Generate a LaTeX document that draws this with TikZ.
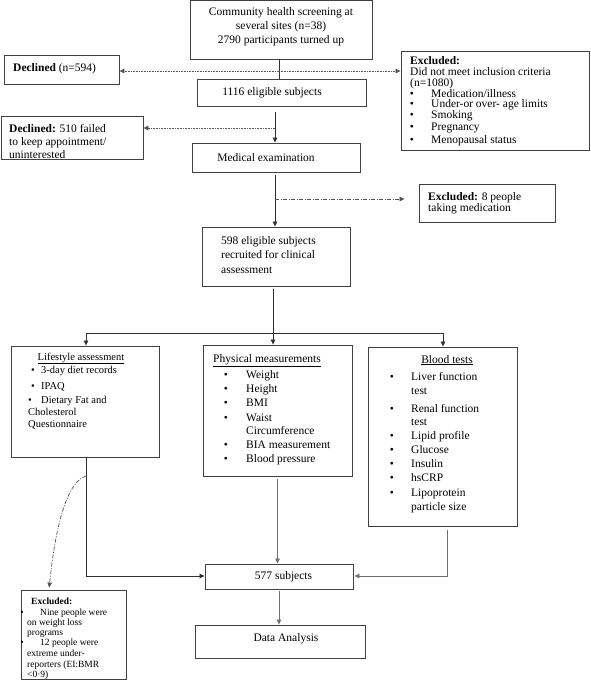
\documentclass[tikz,border=0pt]{standalone}
\usepackage{fontspec}
\setmainfont{Liberation Serif}
\usetikzlibrary{arrows.meta}
\definecolor{boxc}{HTML}{404040}
\definecolor{linec}{HTML}{303030}
\definecolor{glinec}{HTML}{707070}
\definecolor{dotc}{HTML}{555555}
\begin{document}
\begin{tikzpicture}[x=1pt,y=-1pt,
  box/.style={draw=boxc, line width=0.9pt, inner sep=0pt, rectangle},
  t/.style={anchor=base west, inner sep=0pt, font=\fontsize{11.5}{13}\selectfont},
  ts/.style={anchor=base west, inner sep=0pt, font=\fontsize{10.5}{12}\selectfont},
  tx/.style={anchor=base west, inner sep=0pt, font=\fontsize{9.5}{10.5}\selectfont},
  ct/.style={anchor=center, inner sep=0pt, align=center, font=\fontsize{11.5}{14}\selectfont},
  bl/.style={anchor=base, inner sep=0pt, font=\fontsize{11.5}{13}\selectfont},
  bls/.style={anchor=base, inner sep=0pt, font=\fontsize{10.5}{12}\selectfont},
  blx/.style={anchor=base, inner sep=0pt, font=\fontsize{9.5}{10.5}\selectfont},
  plain/.style={draw=linec, line width=0.8pt},
  arr/.style={draw=linec, line width=0.8pt, -{Triangle[length=5pt,width=4.5pt]}},
  garr/.style={draw=glinec, line width=0.8pt, -{Triangle[length=5pt,width=4.5pt]}},
  dotarr/.style={draw=dotc, line width=0.7pt, dash pattern=on 0.8pt off 0.8pt, -{Triangle[length=5pt,width=4.5pt]}},
  ddarr/.style={draw=dotc, line width=0.7pt, dash pattern=on 4pt off 1.5pt on 1pt off 1.5pt, -{Triangle[length=5pt,width=4.5pt]}}
]
\useasboundingbox (0,0) rectangle (591,685);
\fill[white] (0,0) rectangle (591,685);

% boxes
\node[box, minimum width=182pt, minimum height=58.5pt] (top) at (281,29.75) {};
\node[box, minimum width=115pt, minimum height=29pt] (dec1) at (61.5,69.5) {};
\node[box, minimum width=188pt, minimum height=99pt] (excl1) at (495,100.5) {};
\node[box, minimum width=169pt, minimum height=27pt] (e1116) at (281.5,92.5) {};
\node[box, minimum width=142pt, minimum height=43pt] (dec2) at (72,137.5) {};
\node[box, minimum width=168pt, minimum height=29pt] (med) at (276,157.5) {};
\node[box, minimum width=136pt, minimum height=38pt] (excl8) at (487,203) {};
\node[box, minimum width=148pt, minimum height=59pt] (r598) at (276,256.5) {};
\node[box, minimum width=148pt, minimum height=111pt] (life) at (85,401.5) {};
\node[box, minimum width=149pt, minimum height=131pt] (phys) at (277.5,410.5) {};
\node[box, minimum width=149pt, minimum height=179pt] (blood) at (442.5,436.5) {};
\node[box, minimum width=148pt, minimum height=25pt] (s577) at (279,576.5) {};
\node[box, minimum width=170pt, minimum height=33pt] (data) at (280,641.5) {};
\node[box, minimum width=105pt, minimum height=89pt] (excl9) at (73.5,634.5) {};

% texts
\node[ct] (toptx) at (281,27) {Community health screening at\\several sites (n=38)\\2790 participants turned up};
\node[t] (dec1tx) at (13,71.5) {\textbf{Declined} (n=594)};
\node[ct] (e1116tx) at (272,92.5) {1116 eligible subjects};
\node[t] (dec2a) at (9,132) {\textbf{Declined:} 510 failed};
\node[t] (dec2b) at (9,145) {to keep appointment/};
\node[t] (dec2c) at (9,158.5) {uninterested};
\node[ct] (medtx) at (266,157.5) {Medical examination};

\node[t] (ex1a) at (410,64) {\textbf{Excluded:}};
\node[t] (ex1b) at (410,75) {Did not meet inclusion criteria};
\node[t] (ex1c) at (410,86) {(n=1080)};
\foreach \yy/\tt [count=\i] in {97/Medication\slash illness, 107.5/Under-or over- age limits, 118.5/Smoking, 130/Pregnancy, 143/Menopausal status}{
  \node[bl] (ex1bul\i) at (412,\yy) {\textbullet};
  \node[t] (ex1it\i) at (431,\yy) {\tt};
}

\node[t] (ex8a) at (428,200) {\textbf{Excluded:} 8 people};
\node[t] (ex8b) at (428,211.5) {taking medication};

\node[t] (r598a) at (221,244) {598 eligible subjects};
\node[t] (r598b) at (221,258.5) {recruited for clinical};
\node[t] (r598c) at (221,273.5) {assessment};

% lifestyle
\node[bls] (lifeti) at (81,360) {\underline{Lifestyle assessment}};
\node[bls] (lifeb1) at (33,373) {\textbullet};
\node[ts] (lifet1) at (41,373) {3-day diet records};
\node[bls] (lifeb2) at (33,389) {\textbullet};
\node[ts] (lifet2) at (41,389) {IPAQ};
\node[bls] (lifeb3) at (30,403) {\textbullet};
\node[ts] (lifet3) at (41,403) {Dietary Fat and};
\node[ts] (lifet4) at (28,415) {Cholesterol};
\node[ts] (lifet5) at (28,427) {Questionnaire};

% physical
\node[t] (physti) at (213,362) {\underline{Physical measurements}};
\foreach \yy/\tt [count=\i] in {378/Weight, 392/Height, 406/BMI, 421/Waist, 448/BIA measurement, 462/Blood pressure}{
  \node[bl] (phb\i) at (226,\yy) {\textbullet};
  \node[t] (pht\i) at (246,\yy) {\tt};
}
\node[t] (phcirc) at (246,434.5) {Circumference};

% blood
\node[bl] (bloodti) at (447,363) {\underline{Blood tests}};
\foreach \yy/\tt [count=\i] in {380/Liver function, 412/Renal function, 439/Lipid profile, 453/Glucose, 467/Insulin, 481/hsCRP, 496/Lipoprotein}{
  \node[bl] (blb\i) at (392,\yy) {\textbullet};
  \node[t] (blt\i) at (411,\yy) {\tt};
}
\node[t] (bltest1) at (411,394) {test};
\node[t] (bltest2) at (411,425.5) {test};
\node[t] (blpart) at (411,510) {particle size};

\node[ct] (s577tx) at (283.5,576.5) {577 subjects};
\node[ct] (datatx) at (286,639) {Data Analysis};

% excluded bottom-left
\node[tx] (ex9a) at (31,604.5) {\textbf{Excluded:}};
\node[blx] (ex9b1) at (22,615) {\textbullet};
\node[tx] (ex9t1) at (40,615) {Nine people were};
\node[tx] (ex9t2) at (27,625.5) {on weight loss};
\node[tx] (ex9t3) at (27,635) {programs};
\node[blx] (ex9b2) at (22,645.5) {\textbullet};
\node[tx] (ex9t4) at (40,645.5) {12 people were};
\node[tx] (ex9t5) at (27,656.5) {extreme under-};
\node[tx] (ex9t6) at (27,667) {reporters (EI:BMR};
\node[tx] (ex9t7) at (27,677.5) {<0·9)};

% connectors
\coordinate (j1) at (279,71);
\draw[plain] (top.south -| j1) -- (e1116.north -| j1);
\draw[dotarr] (j1) -- (j1 -| dec1.east);
\draw[dotarr] (j1) -- (j1 -| excl1.west);

\coordinate (j2) at (275,128);
\draw[arr, shorten <=6pt] (e1116.south -| j2) -- (med.north -| j2);
\draw[dotarr] (j2) -- (j2 -| dec2.east);

\coordinate (j3) at (275,199);
\draw[arr, shorten <=3pt] (med.south -| j3) -- (r598.north -| j3);
\draw[ddarr, shorten >=14pt] (j3) -- (j3 -| excl8.west);

\coordinate (h1) at (86,333);
\coordinate (h2) at (273,333);
\coordinate (h3) at (443,333);
\draw[arr, shorten <=3pt] (r598.south -| h2) -- (phys.north -| h2);
\draw[plain] (h1) -- (h3);
\draw[arr] (h1) -- (life.north -| h1);
\draw[arr] (h3) -- (blood.north -| h3);

\coordinate (l1) at (86,576);
\draw[arr] (life.south -| l1) -- (l1) -- (s577.west |- l1);
\coordinate (c1) at (86,476);
\draw[ddarr, shorten >=2pt] (c1) .. controls (66,482) and (55,530) .. ([xshift=-24.5pt]excl9.north);

\draw[garr, shorten <=3pt] (phys.south) -- (phys.south |- s577.north);
\coordinate (b1) at (447,576);
\draw[garr, shorten <=4pt, shorten >=1pt] (blood.south -| b1) -- (b1) -- (s577.east |- b1);
\draw[garr, shorten <=2pt] (s577.south) -- (s577.south |- data.north);
\end{tikzpicture}
\end{document}
